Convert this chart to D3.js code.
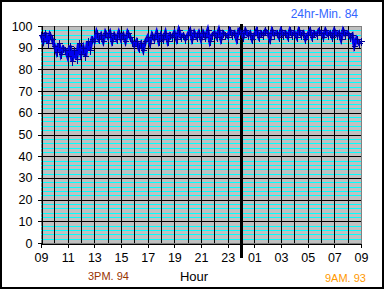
<!DOCTYPE html>
<html>
<head>
<meta charset="utf-8">
<script src="https://cdn.jsdelivr.net/npm/d3@7"></script>
<style>
  html, body { margin: 0; padding: 0; background: #fff; }
  svg { display: block; font-family: 'Liberation Sans', Arial, sans-serif; }
</style>
</head>
<body>
<svg id="chart" width="385" height="290"></svg>
<script>
// readings every 10 minutes, 09:00 -> 09:00 next day
const readings = [
  96, 93, 97, 92, 96, 94,   // 09
  91, 88, 92, 87, 90, 89,   // 10
  86, 91, 84, 89, 85, 92,   // 11
  87, 90, 86, 93, 89, 94,   // 12
  93, 97, 94, 96, 93, 97,   // 13
  95, 97, 93, 96, 94, 97,   // 14
  94, 96, 93, 97, 95, 93,   // 15
  91, 93, 90, 92, 89, 93,   // 16
  95, 92, 96, 94, 97, 93,   // 17
  96, 94, 97, 93, 96, 95,   // 18
  97, 94, 98, 95, 96, 94,   // 19
  96, 98, 94, 97, 95, 97,   // 20
  94, 97, 95, 98, 93, 96,   // 21
  97, 95, 98, 94, 97, 96,   // 22
  95, 98, 96, 97, 94, 98,   // 23
  97, 95, 98, 96, 97, 94,   // 00
  96, 98, 95, 97, 96, 98,   // 01
  97, 94, 98, 96, 97, 95,   // 02
  98, 96, 97, 95, 98, 96,   // 03
  97, 95, 98, 96, 97, 94,   // 04
  96, 98, 95, 97, 96, 98,   // 05
  97, 95, 98, 96, 97, 95,   // 06
  98, 96, 97, 94, 98, 96,   // 07
  97, 95, 96, 91, 94, 92,   // 08
  93                        // 09
]
const stepMinutes = 10
const hourTicks = [0, 2, 4, 6, 8, 10, 12, 14, 16, 18, 20, 22, 24]
const hourLabels = ['09', '11', '13', '15', '17', '19', '21', '23', '01', '03', '05', '07', '09']
const midnightHour = 15
const yTicks = [0, 10, 20, 30, 40, 50, 60, 70, 80, 90, 100]
const minorYTicks = d3.range(0, 101, 2).filter(v => v % 10 !== 0)
const minText = '24hr-Min. 84'
const peakText = '3PM. 94'
const lastText = '9AM. 93'

const svg = d3.select('#chart')
const margin = { top: 26, right: 24, bottom: 47, left: 41 }
const width = 385
const height = 290

// outer frame
svg.append('rect')
  .attr('x', 1).attr('y', 1)
  .attr('width', 382).attr('height', 287)
  .attr('fill', '#fff')
  .attr('stroke', '#000')
  .attr('stroke-width', 2)

const x = d3.scaleLinear()
  .domain([0, 24])
  .range([margin.left, width - margin.right])

const y = d3.scaleLinear()
  .domain([0, 100])
  .range([height - margin.bottom, margin.top])

const grid = svg.append('g').attr('shape-rendering', 'crispEdges')

grid.append('rect')
  .attr('x', x(0)).attr('y', y(100))
  .attr('width', x(24) - x(0)).attr('height', y(0) - y(100))
  .attr('fill', '#c0c0c0')
  .attr('stroke', '#808080')

grid.selectAll('line.minor')
  .data(minorYTicks)
  .join('line')
    .attr('class', 'minor')
    .attr('x1', x(0)).attr('x2', x(24))
    .attr('y1', d => Math.round(y(d)) + 0.5).attr('y2', d => Math.round(y(d)) + 0.5)
    .attr('stroke', '#00ffff')

grid.selectAll('line.major')
  .data(yTicks.slice(1, -1))
  .join('line')
    .attr('class', 'major')
    .attr('x1', x(0)).attr('x2', x(24))
    .attr('y1', d => Math.round(y(d)) + 0.5).attr('y2', d => Math.round(y(d)) + 0.5)
    .attr('stroke', '#000')

grid.selectAll('line.vert')
  .data(d3.range(1, 24))
  .join('line')
    .attr('class', 'vert')
    .attr('x1', d => Math.round(x(d)) + 0.5).attr('x2', d => Math.round(x(d)) + 0.5)
    .attr('y1', y(100)).attr('y2', y(0))
    .attr('stroke', '#000')

// axes
const xAxis = g => g
  .attr('transform', `translate(0,${Math.round(y(0)) + 0.5})`)
  .call(d3.axisBottom(x).tickValues(hourTicks).tickFormat((d, i) => hourLabels[i]).tickSize(4).tickPadding(6))

const yAxis = g => g
  .attr('transform', `translate(${Math.round(x(0)) + 0.5},0)`)
  .call(d3.axisLeft(y).tickValues(yTicks).tickSize(4).tickPadding(5))

svg.append('g').call(xAxis)
svg.append('g').call(yAxis)

svg.selectAll('.domain, .tick line')
  .attr('stroke', '#000')
  .attr('shape-rendering', 'crispEdges')
svg.selectAll('.tick text')
  .attr('fill', '#000')
  .attr('font-size', 12.5)
  .attr('font-family', "'Liberation Sans', Arial, sans-serif")

// midnight divider
svg.append('line')
  .attr('x1', x(midnightHour)).attr('x2', x(midnightHour))
  .attr('y1', y(100) - 2).attr('y2', y(0) + 15)
  .attr('stroke', '#000')
  .attr('stroke-width', 3)
  .attr('shape-rendering', 'crispEdges')

// data
const points = readings.map((v, i) => ({ hour: i * stepMinutes / 60, value: v }))

const line = d3.line()
  .x(d => x(d.hour))
  .y(d => y(d.value))

svg.append('path')
  .datum(points)
  .attr('fill', 'none')
  .attr('stroke', '#0000ee')
  .attr('stroke-width', 3.5)
  .attr('d', line)

svg.append('g')
  .attr('shape-rendering', 'crispEdges')
  .selectAll('path')
  .data(points)
  .join('path')
    .attr('d', d => {
      const cx = Math.round(x(d.hour)) + 0.5
      const cy = Math.round(y(d.value)) + 0.5
      return `M${cx},${cy - 4}V${cy + 4}M${cx - 3},${cy}H${cx + 3}`
    })
    .attr('stroke', '#000099')
    .attr('stroke-width', 1.5)

// labels
svg.append('text')
  .attr('x', 194).attr('y', 281)
  .attr('text-anchor', 'middle')
  .attr('font-size', 13)
  .text('Hour')

svg.append('text')
  .attr('x', 358).attr('y', 18)
  .attr('text-anchor', 'end')
  .attr('font-size', 12)
  .attr('fill', '#3366ff')
  .text(minText)

svg.append('text')
  .attr('x', 88).attr('y', 280)
  .attr('font-size', 11)
  .attr('fill', '#993300')
  .text(peakText)

svg.append('text')
  .attr('x', 325).attr('y', 282)
  .attr('font-size', 11)
  .attr('fill', '#ff9900')
  .text(lastText)
</script>
</body>
</html>
